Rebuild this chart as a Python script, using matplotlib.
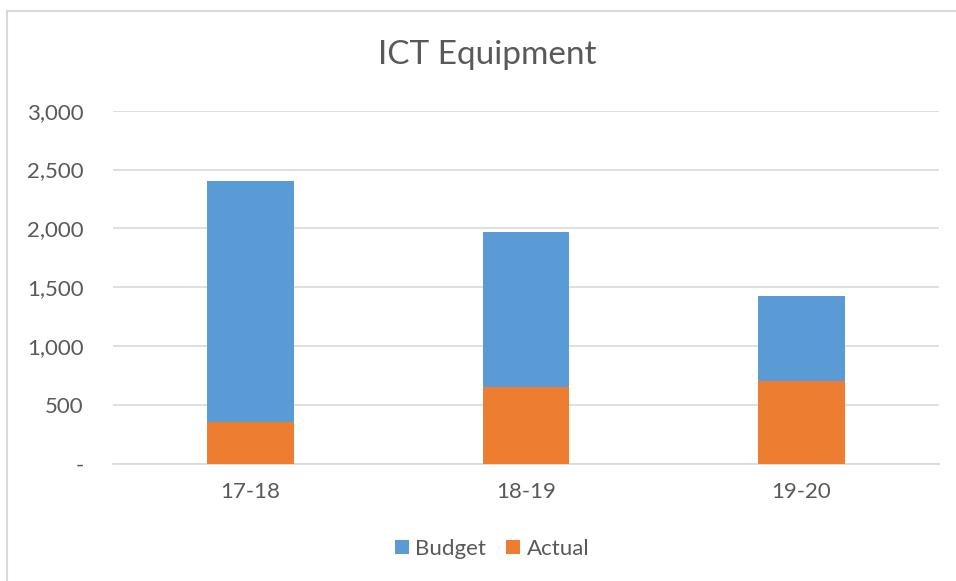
import matplotlib.pyplot as plt
from matplotlib.ticker import FuncFormatter, MultipleLocator
from matplotlib.lines import Line2D

plt.rcParams['font.family'] = ['Lato', 'DejaVu Sans']

# data
years = ["17-18", "18-19", "19-20"]
budget = [2400, 1970, 1425]
actual = [360, 650, 705]

blue = "#5B9BD5"
orange = "#ED7D31"
grey_text = "#595959"
grid = "#D9D9D9"

fig = plt.figure(figsize=(9.56, 5.81), dpi=100)
ax = fig.add_axes([113 / 956, 117 / 581, 826 / 956, 353.4 / 581])

x = range(len(years))
ax.bar(x, budget, width=0.314, color=blue, label="Budget", zorder=2)
ax.bar(x, actual, width=0.314, color=orange, label="Actual", zorder=3)

ax.set_xlim(-0.5, 2.5)
ax.set_ylim(0, 3000)
ax.yaxis.set_major_locator(MultipleLocator(500))
ax.yaxis.set_major_formatter(FuncFormatter(lambda v, p: "-" if v == 0 else f"{v:,.0f}"))
ax.set_xticks(list(x))
ax.set_xticklabels(years)

ax.grid(axis="y", color=grid, linewidth=1.2, zorder=0)
ax.set_axisbelow(True)
for s in ["top", "right", "left"]:
    ax.spines[s].set_visible(False)
ax.spines["bottom"].set_color(grid)
ax.spines["bottom"].set_linewidth(1.2)
ax.tick_params(length=0, labelsize=16, colors=grey_text)
ax.tick_params(axis="y", pad=21)
ax.tick_params(axis="x", pad=13)

fig.text(487.5 / 956, 1 - 55 / 581, "ICT Equipment", ha="center", va="center",
         fontsize=24, color=grey_text)

fig.legend(loc="center", bbox_to_anchor=(492 / 956, 1 - 549 / 581), ncol=2,
           frameon=False, fontsize=16, labelcolor=grey_text,
           handlelength=0.63, handleheight=0.63, handletextpad=0.3,
           columnspacing=0.9)

# outer chart border
fig.add_artist(Line2D([7 / 956, 7 / 956], [0, 1 - 11 / 581], color=grid, lw=1.5))
fig.add_artist(Line2D([7 / 956, 1], [1 - 11 / 581, 1 - 11 / 581], color=grid, lw=1.5))

fig.savefig("out.png", dpi=100)
